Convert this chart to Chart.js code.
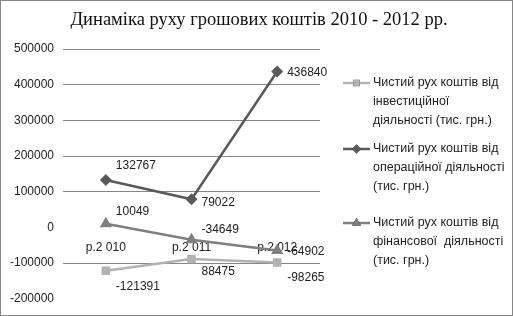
<!DOCTYPE html>
<html>
<head>
<meta charset="utf-8">
<script src="https://cdn.jsdelivr.net/npm/chart.js@4"></script>
<style>
  body { margin: 0; background: #fff; }
  #wrap { width: 513px; height: 316px; box-sizing: border-box; border: 1px solid #868686; }
  canvas { display: block; }
</style>
</head>
<body>
<div id="wrap"><canvas id="chart" width="511" height="314"></canvas></div>
<script>
const years = ["р.2 010", "р.2 011", "р.2 012"];

const investValues = [-121391, -88475, -98265];
const investText = ["-121391", "88475", "-98265"];
const operValues = [132767, 79022, 436840];
const finValues = [10049, -34649, -64902];

const seriesNames = [
    ["Чистий рух коштів від", "інвестиційної", "діяльності (тис. грн.)"],
    ["Чистий рух коштів від", "операційної діяльності", "(тис. грн.)"],
    ["Чистий рух коштів від", "фінансової  діяльності", "(тис. грн.)"]
];

const chartTitle = "Динаміка руху грошових коштів 2010 - 2012 рр.";

const yTicks = { min: -200000, max: 500000, step: 100000 };

const sansFont = "'Liberation Sans', Arial, sans-serif";

// title centred over the whole picture
const wideTitle = {
    id: "wideTitle",
    afterDraw(chart) {
        const ctx = chart.ctx;
        ctx.save();
        ctx.font = "18.5px 'Liberation Serif', 'Times New Roman', serif";
        ctx.fillStyle = "#111";
        ctx.textAlign = "center";
        ctx.textBaseline = "middle";
        ctx.fillText(chartTitle, 258, 19);
        ctx.restore();
    }
};

// value labels beside points
const pointLabels = {
    id: "pointLabels",
    afterDatasetsDraw(chart) {
        const ctx = chart.ctx;
        ctx.save();
        ctx.font = "12px " + sansFont;
        ctx.fillStyle = "#222";
        ctx.textAlign = "left";
        ctx.textBaseline = "middle";
        chart.data.datasets.forEach((ds, i) => {
            const meta = chart.getDatasetMeta(i);
            meta.data.forEach((pt, j) => {
                const txt = ds.labelText ? ds.labelText[j] : String(ds.data[j]);
                const dy = ds.labelDy[j];
                ctx.fillText(txt, pt.x + 10, pt.y + dy);
            });
        });
        ctx.restore();
    }
};

// legend at right, wrapped text
const sideLegend = {
    id: "sideLegend",
    afterDraw(chart) {
        const ctx = chart.ctx;
        const x0 = 342, textX = 372;
        const tops = [82, 148, 222];
        ctx.save();
        ctx.font = "12.5px " + sansFont;
        ctx.fillStyle = "#222";
        ctx.textBaseline = "middle";
        chart.data.datasets.forEach((ds, i) => {
            const y = tops[i];
            ctx.strokeStyle = ds.borderColor;
            ctx.lineWidth = ds.borderWidth;
            ctx.beginPath();
            ctx.moveTo(x0, y);
            ctx.lineTo(x0 + 27, y);
            ctx.stroke();
            Chart.helpers.drawPoint(ctx, {
                pointStyle: ds.pointStyle,
                radius: ds.pointRadius * 0.75,
                rotation: 0,
                borderWidth: 0
            }, x0 + 13.5, y);
            ctx.fillStyle = ds.backgroundColor;
            ctx.fill();
            ctx.fillStyle = "#222";
            seriesNames[i].forEach((line, k) => {
                ctx.fillText(line, textX, y + k * 19);
            });
        });
        ctx.restore();
    }
};

new Chart(document.getElementById("chart"), {
    type: "line",
    data: {
        labels: years,
        datasets: [
            {
                label: seriesNames[0].join(" "),
                data: investValues,
                labelText: investText,
                labelDy: [16, 13, 15],
                borderColor: "#b2b2b2",
                backgroundColor: "#b2b2b2",
                borderWidth: 2.5,
                pointStyle: "rect",
                pointRadius: 6,
                pointBorderWidth: 0
            },
            {
                label: seriesNames[1].join(" "),
                data: operValues,
                labelDy: [-14, 3, 1],
                borderColor: "#5a5a5a",
                backgroundColor: "#5a5a5a",
                borderWidth: 2.5,
                pointStyle: "rectRot",
                pointRadius: 6,
                pointBorderWidth: 0
            },
            {
                label: seriesNames[2].join(" "),
                data: finValues,
                labelDy: [-12, -10, 1],
                borderColor: "#7f7f7f",
                backgroundColor: "#7f7f7f",
                borderWidth: 2.5,
                pointStyle: "triangle",
                pointRadius: 7,
                pointBorderWidth: 0
            }
        ]
    },
    options: {
        responsive: false,
        animation: false,
        layout: { padding: { left: 0, right: 192, top: 48, bottom: 13 } },
        plugins: {
            legend: { display: false },
            tooltip: { enabled: false },
            title: { display: false }
        },
        scales: {
            x: {
                position: { y: 0 },
                offset: true,
                afterFit: s => { s.height = 0; },
                grid: { display: false, drawTicks: false },
                border: { display: false },
                ticks: {
                    color: "#222",
                    padding: 13,
                    font: { family: sansFont, size: 12 }
                }
            },
            y: {
                min: yTicks.min,
                max: yTicks.max,
                grid: {
                    drawTicks: false,
                    color: ctx => (ctx.tick && (ctx.tick.value === 0 || ctx.tick.value === yTicks.min)) ? "rgba(0,0,0,0)" : "#868686"
                },
                border: { display: false },
                ticks: {
                    stepSize: yTicks.step,
                    color: "#222",
                    padding: 9,
                    font: { family: sansFont, size: 12 },
                    callback: v => String(v)
                }
            }
        }
    },
    plugins: [pointLabels, sideLegend, wideTitle]
});
</script>
</body>
</html>
